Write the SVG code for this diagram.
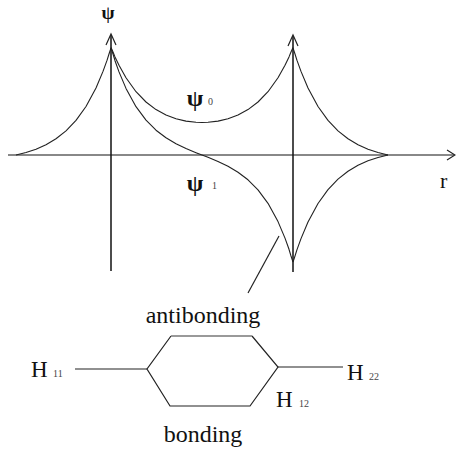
<svg xmlns="http://www.w3.org/2000/svg" width="456" height="451" viewBox="0 0 456 451">
<style>
  .curve { fill: none; stroke: #222; stroke-width: 1.1; stroke-linejoin: round; }
  .axis { fill: none; stroke: #111; stroke-width: 1.5; }
  .haxis { fill: none; stroke: #888; stroke-width: 2; }
  .ln { fill: none; stroke: #222; stroke-width: 1.2; }
  .t { font-family: "Liberation Serif", "Times New Roman", serif; fill: #111; }
  .g { font-family: "Liberation Serif", "DejaVu Serif", serif; fill: #111; font-weight: bold; }
  .s { font-family: "Liberation Serif", "Times New Roman", serif; fill: #444; }
</style>
<rect width="456" height="451" fill="#fff"/>
<g id="axes">
  <line class="haxis" x1="8" y1="155" x2="454" y2="155"/>
  <polyline class="ln" points="447,150 455,155 447,160"/>
  <line class="axis" x1="111" y1="35" x2="111" y2="271"/>
  <polyline class="ln" points="106,45 111,34 116,45"/>
  <line class="axis" x1="293" y1="36" x2="293" y2="272"/>
  <polyline class="ln" points="288,46 293,35 298,46"/>
</g>
<g id="curves">
  <polyline class="curve" points="16,155 26,152.5 36,149.2 46,144.7 56,138.8 66,130.9 76,120.4 86,106.5 96,88 103,71.4 107,60.4 109,54 111,48"/>
  <polyline class="curve" points="111,47.5 113,52 115,56.9 119,65.3 126,77.8 136,91.7 146,102 156,109.6 166,115 176,118.8 186,121.1 196,122.3 202,122.5 208,122.3 218,121.1 228,118.8 238,115 248,109.6 258,102 268,91.7 278,77.8 285,65.3 289,56.9 291,52 293,47.5"/>
  <polyline class="curve" points="111,48 113,54 115,60.7 119,71.9 126,88.4 136,106.7 146,120.1 156,130.2 166,137.8 176,143.7 186,148.5 196,152.65 202,155 208,157.35 218,161.5 228,166.3 238,172.2 248,179.8 258,189.9 268,203.3 278,221.6 285,238.1 289,249.3 291,256 293,262"/>
  <polyline class="curve" points="293,48 295,54 297,60.4 301,71.4 308,88 318,106.5 328,120.4 338,130.9 348,138.8 358,144.7 368,149.2 378,152.5 388,155"/>
  <polyline class="curve" points="293,262 295,256 297,249.6 301,238.6 308,222 318,203.5 328,189.6 338,179.1 348,171.2 358,165.3 368,160.8 378,157.5 388,155"/>
</g>
<g id="labels-top">
  <text class="g" x="108" y="19" font-size="19" text-anchor="middle">ψ</text>
  <text class="g" x="195" y="106" font-size="24" text-anchor="middle">ψ</text>
  <text class="s" x="208" y="105" font-size="10">0</text>
  <text class="g" x="195" y="191" font-size="24" text-anchor="middle">ψ</text>
  <text class="s" x="212" y="189" font-size="10">1</text>
  <text class="t" x="440" y="188" font-size="22">r</text>
</g>
<g id="pointer">
  <line class="ln" x1="279" y1="236" x2="248" y2="293"/>
</g>
<g id="antibonding">
  <text class="t" x="203" y="323" font-size="24" text-anchor="middle">antibonding</text>
</g>
<g id="bonding">
  <text class="t" x="203" y="442" font-size="24" text-anchor="middle">bonding</text>
</g>
<g id="H11">
  <text class="t" x="31" y="377" font-size="23">H</text>
  <text class="s" x="53" y="377" font-size="10">11</text>
</g>
<g id="H22">
  <text class="t" x="347" y="380" font-size="23">H</text>
  <text class="s" x="369" y="380" font-size="10">22</text>
</g>
<g id="H12">
  <text class="t" x="276" y="407" font-size="23">H</text>
  <text class="s" x="299" y="407" font-size="10">12</text>
</g>
<g id="connectors">
  <line class="ln" x1="75" y1="369" x2="147" y2="369"/>
  <line class="ln" x1="278" y1="367" x2="343" y2="367"/>
  <polyline class="ln" points="171,336 147,369 170,406 250,406 278,367 252,336"/>
  <line x1="171" y1="336" x2="252" y2="336" stroke="#777" stroke-width="1.6"/>
</g>
</svg>
